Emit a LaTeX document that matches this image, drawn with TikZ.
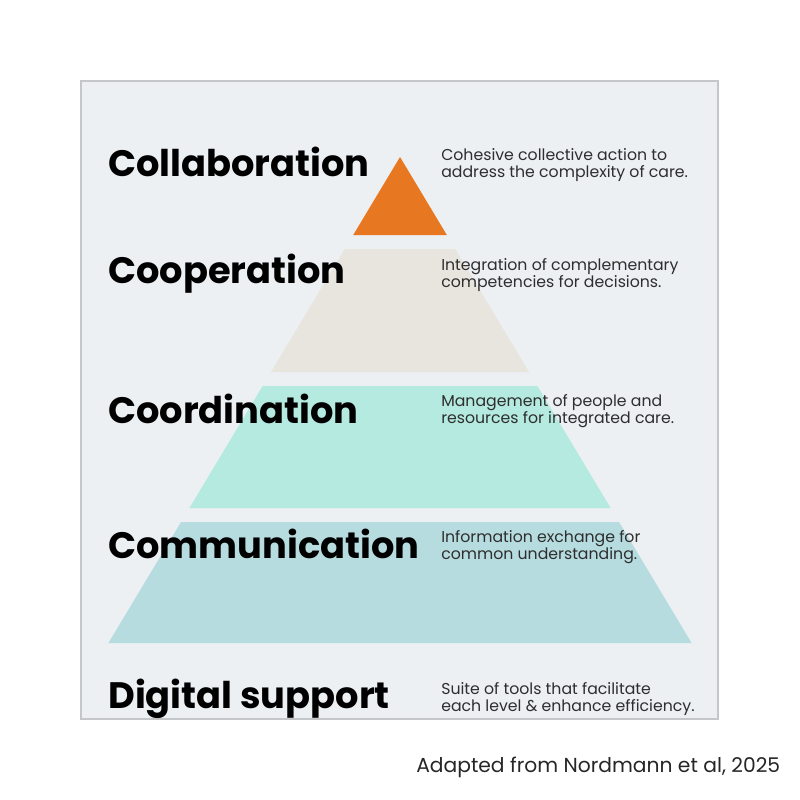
\documentclass[tikz,border=0pt]{standalone}
\usepackage{fontspec}
\setmainfont{Poppins}
\usetikzlibrary{positioning}
\definecolor{panelfill}{HTML}{ECF0F3}
\definecolor{paneldraw}{HTML}{C4C6C8}
\definecolor{collabc}{HTML}{E87722}
\definecolor{coopc}{HTML}{E8E5DF}
\definecolor{coordc}{HTML}{B4EAE0}
\definecolor{commc}{HTML}{B7DCE0}
\definecolor{infotext}{HTML}{2E2E2E}

\begin{document}
\begin{tikzpicture}[x=0.75pt, y=-0.75pt,
            level/.style={anchor=base west, inner sep=0pt, text=black,
                font=\fontsize{27.6}{30}\selectfont\bfseries},
            info/.style={anchor=base west, inner sep=0pt, align=left, text=infotext,
                font=\fontsize{11.8}{12.75}\selectfont}]
        \useasboundingbox (0,0) rectangle (800,800);
        % panel
        \filldraw[fill=panelfill, draw=paneldraw, line width=1pt] (81,81) rectangle (718,719);
        % pyramid layers, apex at (400,157)
        \foreach \ytop/\ybot/\col in {157/235/collabc, 249/372/coopc, 386/508/coordc, 522/643/commc}
            \fill[\col] ({400-0.6*(\ytop-157)},\ytop) -- ({400+0.6*(\ytop-157)},\ytop)
                -- ({400+0.6*(\ybot-157)},\ybot) -- ({400-0.6*(\ybot-157)},\ybot) -- cycle;
        % level names
        \node[level] (collab) at (108,176) {Collaboration};
        \node[level] (coop) at (108,283) {Cooperation};
        \node[level] (coord) at (108,423) {Coordination};
        \node[level] (comm) at (108,558) {Communication};
        \node[level] (digital) at (108,708) {Digital support};
        % descriptions (base = last line)
        \node[info] (collabinfo) at (441,177) {Cohesive collective action to\\address the complexity of care.};
        \node[info] (coopinfo) at (441,287) {Integration of complementary\\competencies for decisions.};
        \node[info] (coordinfo) at (441,423) {Management of people and\\resources for integrated care.};
        \node[info] (comminfo) at (441,559) {Information exchange for\\common understanding.};
        \node[info] (digitalinfo) at (441,711) {Suite of tools that facilitate\\each level \& enhance efficiency.};
        % source
        \node[anchor=base west, inner sep=0pt, text=black!85, font=\fontsize{15.2}{17}\selectfont] (source) at (416,772) {Adapted from Nordmann et al, 2025};
\end{tikzpicture}
\end{document}
